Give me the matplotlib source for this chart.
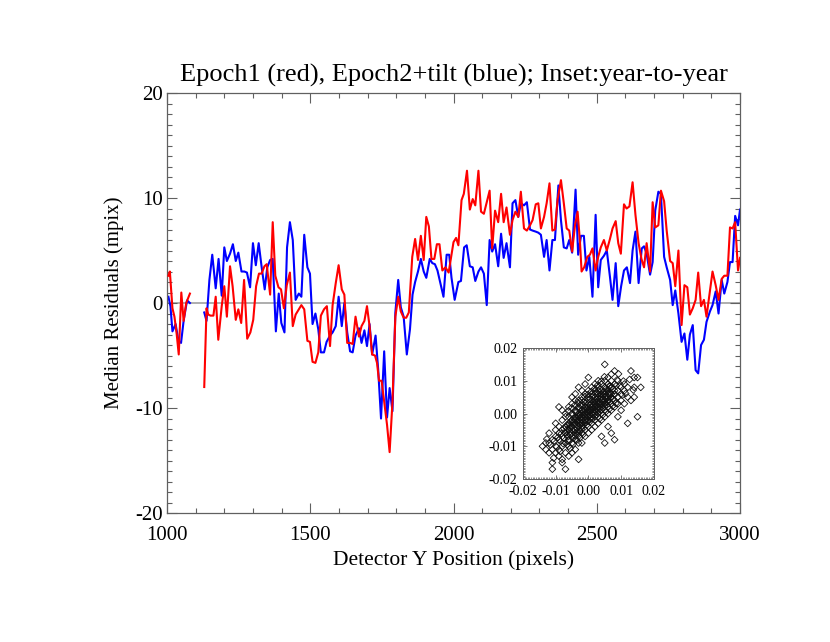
import numpy as np
import matplotlib
matplotlib.use("Agg")
import matplotlib.pyplot as plt
from matplotlib.ticker import MultipleLocator, FormatStrFormatter

plt.rcParams['font.family'] = ['Liberation Serif', 'DejaVu Serif']
plt.rcParams['axes.unicode_minus'] = False

# Epoch1 residuals (red); nan marks the gap in coverage
red_x = [1005, 1010, 1019, 1026, 1034, 1041, 1050, 1058, 1067, 1080, 1100,
         1130, 1138, 1144, 1152, 1162, 1170, 1179, 1191, 1200, 1209, 1220, 1229, 1240, 1249,
         1259, 1269, 1280, 1291, 1301, 1311, 1321, 1330, 1340, 1348, 1360, 1369, 1378, 1389,
         1398, 1408, 1418, 1429, 1439, 1449, 1460, 1469, 1479, 1490, 1499, 1508, 1518, 1528,
         1537, 1548, 1558, 1569, 1578, 1589, 1599, 1610, 1619, 1629, 1639, 1648, 1658, 1670,
         1679, 1689, 1698, 1707, 1716, 1726, 1733, 1740, 1749, 1758, 1768, 1777, 1787, 1797,
         1807, 1816, 1826, 1835, 1844, 1856, 1866, 1876, 1886, 1896, 1905, 1914, 1923, 1933,
         1942, 1951, 1961, 1972, 1983, 1993, 2000, 2009, 2017, 2028, 2036, 2047, 2057, 2067,
         2076, 2087, 2096, 2106, 2116, 2126, 2135, 2145, 2156, 2166, 2175, 2185, 2197, 2206,
         2216, 2226, 2235, 2246, 2256, 2267, 2276, 2287, 2296, 2305, 2316, 2325, 2335, 2345,
         2354, 2363, 2375, 2385, 2395, 2404, 2414, 2424, 2433, 2441, 2447, 2456, 2467, 2476,
         2485, 2496, 2505, 2514, 2525, 2535, 2546, 2555, 2566, 2575, 2584, 2595, 2604, 2614,
         2625, 2635, 2646, 2656, 2665, 2674, 2686, 2695, 2704, 2715, 2724, 2735, 2744, 2756,
         2765, 2774, 2785, 2796, 2806, 2816, 2825, 2835, 2845, 2854, 2864, 2874, 2883, 2895,
         2904, 2915, 2925, 2936, 2945, 2956, 2965, 2974, 2983, 2993, 3000]
red_y = [2.6, 3.0, -0.5, -1.3, -3.0, -4.9, 1.0, -1.7, 0.0, 0.9, np.nan,
         -8.0, -0.5, -1.1, -1.2, -1.2, 0.6, -3.5, -0.3, 1.6, -1.3, 3.5, 1.6, -1.6, -0.6,
         -1.9, 2.2, -3.4, -2.8, -1.6, 1.6, 2.8, 2.8, 3.5, 3.7, 0.8, 7.7, 2.6, 1.5,
         1.3, -0.5, 1.7, 2.9, -2.2, -1.1, -0.6, -0.2, -0.6, -3.6, -3.7, -5.6, -5.7, -4.7,
         -1.2, -0.6, -0.3, -4.1, -0.2, 1.9, 3.6, 1.3, 0.8, -3.8, -3.8, -3.9, -1.3, -3.2,
         -2.2, -1.7, -0.3, -2.2, -4.9, -5.0, -5.7, -7.4, -7.4, -9.4, -11.6, -14.2, -9.4, -1.3,
         0.6, -0.8, -1.4, -1.4, -0.9, 4.4, 6.1, 4.1, 6.4, 4.1, 8.2, 7.3, 4.2, 4.2,
         5.6, 5.6, 3.1, 3.4, 2.9, 4.6, 5.8, 6.2, 5.5, 9.8, 10.4, 12.6, 8.9, 9.9,
         9.3, 12.6, 8.7, 8.5, 9.6, 10.7, 5.2, 8.8, 7.7, 10.4, 7.7, 9.1, 6.5, 7.9,
         8.7, 8.2, 10.6, 7.1, 6.9, 7.4, 7.9, 9.4, 9.5, 7.1, 8.2, 9.5, 11.4, 6.9,
         7.0, 9.8, 11.7, 9.5, 7.1, 6.9, 4.9, 7.4, 8.7, 6.0, 3.0, 3.4, 4.4, 4.6,
         5.2, 3.1, 4.4, 5.3, 6.0, 5.0, 6.1, 7.1, 7.8, 5.7, 4.7, 9.4, 9.0, 9.2,
         11.5, 8.4, 5.7, 4.2, 3.4, 5.7, 3.0, 9.6, 7.2, 7.4, 10.7, 9.7, 6.9, 4.0,
         3.8, 1.6, 5.0, -2.1, 1.7, 1.5, -1.1, -0.5, 0.3, 2.9, -0.3, 0.3, -1.3, 1.2,
         3.0, 1.7, 0.3, 2.3, 2.6, 2.6, 7.2, 7.1, 7.7, 3.1, 4.3]

# Epoch2+tilt residuals (blue)
blue_x = [1005, 1012, 1019, 1030, 1040, 1049, 1058, 1070, 1080, 1100,
          1130, 1138, 1148, 1158, 1170, 1180, 1191, 1200, 1209, 1220, 1230, 1240, 1249,
          1260, 1270, 1279, 1290, 1300, 1310, 1320, 1330, 1341, 1350, 1360, 1369, 1380, 1390,
          1399, 1410, 1419, 1429, 1439, 1449, 1460, 1469, 1479, 1490, 1499, 1508, 1518, 1528,
          1537, 1548, 1557, 1569, 1578, 1589, 1599, 1610, 1619, 1629, 1639, 1648, 1658, 1670,
          1679, 1689, 1698, 1707, 1716, 1728, 1737, 1747, 1758, 1768, 1777, 1787, 1797, 1807,
          1816, 1826, 1837, 1848, 1857, 1866, 1876, 1886, 1896, 1905, 1917, 1926, 1935, 1944,
          1954, 1965, 1976, 1985, 1993, 2004, 2017, 2026, 2037, 2046, 2057, 2067, 2076, 2087,
          2096, 2106, 2116, 2126, 2135, 2145, 2156, 2166, 2175, 2185, 2197, 2206, 2216, 2226,
          2235, 2246, 2256, 2267, 2276, 2287, 2296, 2305, 2316, 2325, 2335, 2345, 2354, 2366,
          2375, 2385, 2395, 2404, 2414, 2426, 2435, 2445, 2455, 2464, 2474, 2485, 2496, 2505,
          2514, 2525, 2535, 2546, 2555, 2566, 2575, 2585, 2595, 2605, 2616, 2625, 2635, 2646,
          2657, 2665, 2674, 2686, 2695, 2704, 2715, 2724, 2735, 2744, 2756, 2765, 2774, 2785,
          2796, 2806, 2816, 2825, 2835, 2845, 2854, 2864, 2874, 2883, 2895, 2904, 2915, 2925,
          2936, 2945, 2956, 2965, 2974, 2983, 2993, 3000]
blue_y = [0.6, -0.3, -2.7, -2.0, -3.6, -3.8, -1.7, 0.25, 0.0, np.nan,
          -0.9, -1.7, 2.2, 4.6, 1.4, 4.2, 0.7, 5.3, 4.0, 4.7, 5.6, 4.0, 4.8,
          3.0, 3.0, 2.9, 1.5, 5.7, 3.6, 5.7, 3.5, 1.3, 3.4, 4.1, 4.2, -2.7, 0.9,
          -1.9, -2.8, 5.3, 7.7, 6.0, 0.3, 0.9, 0.6, 6.5, 3.4, 2.8, -2.0, -1.0, -2.5,
          -4.7, -4.7, -3.7, -3.1, -2.8, -2.2, 0.6, -2.2, 0.0, -2.8, -4.6, -4.7, -3.1, -2.4,
          -3.8, -2.6, -4.1, -2.0, -4.9, -3.1, -6.3, -11.0, -4.6, -10.9, -8.1, -10.3, -0.9, 2.2,
          -0.4, -1.3, -4.9, -2.5, 0.8, 2.0, 3.0, 4.2, 3.0, 2.4, 4.2, 3.8, 3.7, 3.1,
          1.9, 0.6, 4.6, 4.6, 2.4, 0.3, 2.0, 2.1, 5.3, 5.5, 3.5, 3.4, 2.1, 3.0,
          3.4, 2.8, -0.2, 6.0, 4.9, 5.6, 3.5, 6.6, 4.3, 5.7, 3.4, 9.5, 9.8, 8.2,
          9.5, 9.3, 9.6, 7.0, 6.9, 6.8, 6.7, 6.5, 4.4, 6.0, 3.1, 6.0, 6.0, 11.2,
          7.9, 5.3, 5.2, 6.0, 4.8, 10.8, 4.6, 6.4, 6.4, 3.1, 4.4, 0.6, 8.4, 1.5,
          4.1, 4.5, 5.0, 2.5, 0.3, 3.8, -0.3, 1.6, 3.1, 3.4, 1.9, 5.0, 6.8, 1.9,
          5.2, 5.4, 4.7, 2.7, 3.9, 8.8, 10.6, 10.4, 4.4, 3.4, 2.2, -0.2, 1.2, -1.0,
          -3.7, -2.9, -5.4, -3.0, -2.1, -6.4, -6.7, -4.0, -3.5, -1.8, -0.8, -0.2, 1.1, -1.0,
          2.2, 0.9, 2.0, 3.9, 3.9, 8.3, 7.4, 8.9]

# year-to-year inset scatter, in units of 0.001
inset_x = [-14, -13, -12, -12, -11, -11, -11, -10, -10, -10, -13, -12, -11, -10, -10,
           -9, -9, -9, -9, -9, -8, -8, -8, -8, -8, -7, -7, -7, -7, -7, -7, -8, -9, -8, -7,
           -6, -6, -6, -6, -6, -6, -6, -5, -5, -5, -5, -5, -5, -5, -5, -4, -4, -4, -4, -4,
           -4, -4, -4, -4, -4, -6, -5,
           -3, -3, -3, -3, -3, -3, -3, -3, -3, -3, -3, -3, -2, -2, -2, -2, -2, -2, -2, -2,
           -2, -2, -1, -1, -1, -1, -1, -1, -1, -1, -1, -1, -1, -2,
           0, 0, 0, 0, 0, 0, 0, 0, 0, 0, 0, 1, 1, 1, 1, 1, 1, 1, 1, 1, 1, 2, 2, 2, 2, 2,
           2, 2, 2, 2, 2,
           3, 3, 3, 3, 3, 3, 3, 3, 3, 3, 4, 4, 4, 4, 4, 4, 4, 4, 4, 4, 5, 5, 5, 5, 5, 5,
           5, 5, 5, 5,
           6, 6, 6, 6, 6, 6, 6, 6, 6, 7, 7, 7, 7, 7, 7, 7, 7, 8, 8, 8, 8, 8, 8, 8,
           9, 9, 9, 9, 9, 10, 10, 10, 10, 11, 11, 11, 12, 12, 12,
           13, 13, 14, 14, 14, 15, 16, 15,
           -5.5, -4.5, -3.5, -2.5, -1.5, -0.5, 0.5, 1.5, 2.5, 3.5, 4.5, 5.5, -6.5, -5.5,
           -4.5, -3.5, -2.5, -1.5, -0.5, 0.5, 1.5, 2.5, 3.5, 4.5, 5.5, 6.5, -4.5, -3.5,
           -2.5, -1.5, 0.5, 1.5, 2.5, 3.5, -6.5, -5.5, -0.5, 0.5, 1.5, 2.5, 3.5, 4.5, 5.5,
           6.5, 7.5, -7.5, -8.5, -7.5, -2.5, -1.5, 7.5, 8.5, 6.5, -4.5, -6.5,
           -7.2, -6.8, -6.3, -5.8, -5.2, -4.8, -4.3, -3.8, -3.2, -2.8, -2.3, -1.8, -1.2, -0.8,
           -0.3, 0.2, 0.7, 1.2, 1.7, 2.2, 2.7, 3.2, 3.7, 4.2, 4.7, 5.2, 5.7, 6.2, 6.7, 7.2,
           -7.7, -6.1, -4.1, -3.1, -2.1, -1.1, -0.1, 0.9, 1.9, 2.9, 3.9, 4.9, 5.9, 6.9, 7.9,
           -6.1, -5.1, -4.1, -3.1, -2.1, -1.1, -0.1, 0.9, 1.9, 2.9, 3.9, 4.9,
           -2.6, -1.6, -0.6, 0.4, 1.4, 2.4, 3.4, 4.4, 5.4, 6.4,
           -2.4, -1.4, -0.4, 0.6, 1.6, 2.6, 3.6, 4.6, 5.6, -3.4, -4.4, -5.4, -6.4,
           -3.7, -2.7, -1.7, -0.7, 0.3, 1.3, 2.3, 3.3, 4.3, 5.3, 6.3,
           -4.9, -3.9, -2.9, -1.9, -0.9, 0.1, 1.1, 2.1, 3.1,
           -8.2, -9.3, -10.4, -11.6, -12.7, -9.7, -8.6, -10.6,
           8.8, 9.6, 10.7, 11.4, 12.6, 10.3, 9.2, 13.7,
           -5.6, -4.6, -3.6, -2.6, -1.6, 3.4, 4.4, 5.4, 6.4, 7.4, 8.4]
inset_y = [-10, -11, -6, -9, -15, -17, -8, -12, -7, -5, -9, -12, -11, -10, -3,
           -11, -8, -6, -4, -13, -10, -7, -5, -2, -14, -17, -9, -6, -4, -1, -12, -15, 2, 1, 0,
           -8, -6, -5, -3, -1, -10, 2, -9, -7, -5, -4, -2, 0, 3, -12, -8, -6, -5, -3, -2,
           -1, 1, 4, 6, -11, -13, 5,
           -7, -5, -4, -3, -2, -1, 0, 2, 4, 8, -14, -9, -6, -4, -3, -2, -1, 0, 1, 3,
           5, -9, -5, -3, -2, -1, 0, 1, 2, 4, 6, -7, 9, 7,
           -4, -2, -1, 0, 1, 2, 3, 5, 7, 11, -6, -3, -1, 0, 1, 2, 3, 4, 6, -5, 8, -2, 0, 1, 2, 3,
           4, 5, 7, -4, 9,
           -1, 1, 2, 3, 4, 5, 6, 8, -3, 10, 0, 2, 3, 4, 5, 6, 7, 9, -2, -7, 1, 3, 4, 5, 6, 8,
           10, 15, -1, -9,
           2, 4, 5, 6, 7, 9, 11, 0, -4, 3, 5, 6, 8, 10, 12, 1, -6, 4, 6, 7, 9, 13, 2, -8,
           5, 7, 10, 3, -1, 6, 8, 4, 1, 7, 9, 3, 5, -3, 8,
           13, 4, 11, 5, 8, 11, 8, -1,
           -4.5, -3.5, -2.5, -1.5, -0.5, 0.5, 1.5, 2.5, 3.5, 4.5, 5.5, 6.5, -6.5, -6.5,
           -5.5, -4.5, -3.5, -2.5, -1.5, -0.5, 0.5, 1.5, 2.5, 3.5, 4.5, 5.5, -1.5, 0.5,
           2.5, 3.5, 4.5, 5.5, 6.5, 7.5, -3.5, -2.5, -3.5, -2.5, -1.5, -0.5, 0.5, 1.5, 2.5,
           3.5, 4.5, -7.5, -8.5, -4.5, -5.5, -4.5, 7.5, 8.5, 8.5, -7.5, -9.5,
           -5.8, -4.2, -7.1, -3.3, -6.1, -2.7, -4.9, -1.2, -5.6, -0.6, -2.9, -3.8, 0.3, -2.3,
           1.2, -0.8, 2.7, -0.3, 3.2, 0.8, 4.8, 1.7, 5.9, 2.8, 6.8, 3.3, 7.2, 4.2, 6.2, 8.1,
           -9.2, -8.4, -6.8, -6.3, -4.7, -3.1, -2.4, -1.6, -0.9, 0.2, 1.1, 2.3, 3.6, 4.8, 5.7,
           0.8, 1.7, 2.6, 3.3, 4.1, 5.2, 5.8, 6.7, 7.6, 8.7, 9.8, 11.2,
           -0.2, 0.7, 1.9, 2.6, 3.8, 4.3, 5.3, 6.3, 7.7, 8.2,
           -1.1, -0.4, 0.3, 0.9, 1.8, 2.4, 3.3, 4.4, 5.3, -2.1, -2.8, -3.9, -4.8,
           -3.2, -2.2, -1.2, -0.2, 0.6, 1.3, 2.2, 3.1, 4.2, 5.1, 6.2,
           -0.6, 0.6, 1.4, 2.3, 3.1, 4.3, 5.1, 6.2, 6.9,
           -6.1, -7.3, -8.4, -9.6, -7.8, -10.2, -11.6, -13.6,
           10.3, 8.4, 9.9, 6.1, 10.4, 5.6, 12.1, 7.2,
           -10.7, -9.3, -8.1, -7.4, -6.4, -1.6, -0.4, 0.6, 1.4, 2.3, 3.1]

fig = plt.figure(figsize=(8.3, 6.42), dpi=100)
ax = fig.add_axes([0.2012, 0.2009, 0.6904, 0.6542])

ax.axhline(0, color='#a0a0a0', lw=1.2, zorder=1)
ax.plot(red_x, red_y, color='#ff0000', lw=1.5, zorder=3)
ax.plot(blue_x, blue_y, color='#0000ff', lw=1.5, zorder=2)

ax.set_xlim(1000, 3000)
ax.set_ylim(-20, 20)
ax.xaxis.set_major_locator(MultipleLocator(500))
ax.xaxis.set_minor_locator(MultipleLocator(100))
ax.yaxis.set_major_locator(MultipleLocator(10))
ax.yaxis.set_minor_locator(MultipleLocator(1))
ax.tick_params(which='both', direction='in', top=True, right=True, color='#606060',
               labelsize=15)
ax.tick_params(axis='x', pad=9)
ax.tick_params(axis='y', pad=3)
ax.tick_params(which='major', length=7.5, width=0.8)
ax.tick_params(which='minor', length=3.8, width=0.8)
for s in ax.spines.values():
    s.set_color('#606060')
    s.set_linewidth(0.9)

ax.set_title('Epoch1 (red), Epoch2+tilt (blue); Inset:year-to-year', fontsize=19, pad=8)
ax.set_xlabel('Detector Y Position (pixels)', fontsize=15.5, labelpad=4)
ax.set_ylabel('Median Residuals (mpix)', fontsize=15, labelpad=8)

# inset: open diamonds, overlapping outlines make the dense core dark
ins = fig.add_axes([0.630, 0.2539, 0.1578, 0.204])
ins.scatter(np.array(inset_x) * 0.001, np.array(inset_y) * 0.001, marker='D', s=12,
            facecolors='none', edgecolors='#111111', linewidths=0.6)
ins.set_xlim(-0.02, 0.02)
ins.set_ylim(-0.02, 0.02)
ins.xaxis.set_major_locator(MultipleLocator(0.01))
ins.yaxis.set_major_locator(MultipleLocator(0.01))
ins.xaxis.set_minor_locator(MultipleLocator(0.0005))
ins.yaxis.set_minor_locator(MultipleLocator(0.0005))
ins.xaxis.set_major_formatter(FormatStrFormatter('%.2f'))
ins.yaxis.set_major_formatter(FormatStrFormatter('%.2f'))
ins.tick_params(which='both', direction='in', top=True, right=True, color='#606060',
                labelsize=10, pad=4)
ins.tick_params(which='major', length=3, width=0.6)
ins.tick_params(which='minor', length=1.5, width=0.5)
for s in ins.spines.values():
    s.set_color('#606060')
    s.set_linewidth(0.7)

fig.savefig('out.png', dpi=100)
